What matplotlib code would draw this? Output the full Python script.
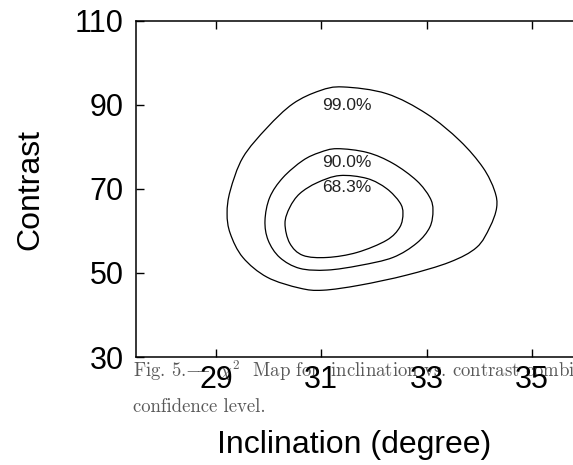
import numpy as np
import matplotlib as mpl
mpl.use('Agg')
from matplotlib import pyplot as plt
from matplotlib.path import Path
from matplotlib.patches import PathPatch

c99_x = [31.41, 32.24, 33.00, 33.63, 34.07, 34.29, 34.33, 34.20, 33.95, 33.44, 32.62, 31.73,
         31.03, 30.59, 29.97, 29.51, 29.27, 29.21, 29.27, 29.51, 29.97, 30.46, 30.97]
c99_y = [94.3, 92.7, 87.9, 81.5, 75.1, 69.6, 65.6, 60.9, 56.1, 52.6, 49.5, 47.1,
         45.9, 46.4, 49.0, 53.7, 59.4, 64.2, 69.6, 77.5, 84.6, 90.3, 93.4]

c90_x = [31.30, 31.87, 32.36, 32.81, 33.06, 33.12, 33.06, 32.81, 32.36, 31.73, 31.11, 30.59,
         30.21, 29.99, 29.93, 30.02, 30.27, 30.65, 30.97]
c90_y = [79.6, 78.7, 76.1, 72.0, 68.0, 64.9, 60.9, 57.1, 53.7, 51.8, 50.7, 51.1,
         53.7, 57.8, 62.5, 68.0, 72.7, 76.8, 78.7]

c68_x = [31.35, 31.87, 32.24, 32.49, 32.55, 32.49, 32.24, 31.68, 31.11, 30.65, 30.40, 30.31,
         30.40, 30.59, 30.92]
c68_y = [73.2, 72.5, 70.1, 66.8, 64.2, 60.9, 57.8, 54.9, 53.7, 54.2, 57.1, 61.8,
         65.6, 68.9, 71.5]

levels = ['99.0%', '90.0%', '68.3%']
label_x = [31.49, 31.49, 31.49]
label_y = [89.8, 76.3, 70.4]

xticks = [29, 31, 33, 35]
yticks = [30, 50, 70, 90, 110]

caption1 = 'Fig. 5.$-\\!\\!\\!-$ $\\chi^2$  Map for  inclination vs. contrast combined at the 68.3%'
caption2 = 'confidence level.'


def smooth_loop(xs, ys):
    # closed curve through the read points, drawn as bezier segments
    p = np.column_stack([xs, ys])
    n = len(p)
    verts = [p[0]]
    codes = [Path.MOVETO]
    for i in range(n):
        p0, p1, p2, p3 = p[i-1], p[i], p[(i+1) % n], p[(i+2) % n]
        verts += [p1 + (p2-p0)/6., p2 - (p3-p1)/6., p2]
        codes += [Path.CURVE4]*3
    return Path(verts, codes)


plt.rcParams['font.family'] = ['Liberation Sans', 'DejaVu Sans']
plt.rcParams['mathtext.fontset'] = 'cm'

fig = plt.figure(figsize=(5.73, 4.65), dpi=100)
ax = fig.add_axes([136/573, 108/465, 1 - 136/573, 336/465])
ax.patch.set_alpha(0)

for cx, cy in [(c99_x, c99_y), (c90_x, c90_y), (c68_x, c68_y)]:
    ax.add_patch(PathPatch(smooth_loop(cx, cy), fill=False, edgecolor='black', lw=0.9))

for t, lx, ly in zip(levels, label_x, label_y):
    ax.text(lx, ly, t, ha='center', va='center', fontsize=12.5, color='#222222')

ax.set_xlim(27.48, 35.78)
ax.set_ylim(30, 110)
ax.set_xticks(xticks)
ax.set_yticks(yticks)
ax.tick_params(direction='in', length=6, width=1, labelsize=22, top=True, pad=6)
ax.tick_params(axis='y', pad=9)
ax.spines['right'].set_visible(False)
for s in ['left', 'top', 'bottom']:
    ax.spines[s].set_linewidth(1.1)

ax.set_xlabel('Inclination (degree)', fontsize=23, labelpad=25)
ax.set_ylabel('Contrast', fontsize=23, labelpad=21)

fig.text(133/573, 1 - 377/465, caption1, fontsize=13.5, color='0.35', va='baseline',
         family=['cmr10', 'DejaVu Serif'], zorder=-1)
fig.text(133/573, 1 - 412/465, caption2, fontsize=13.5, color='0.35', va='baseline',
         family=['cmr10', 'DejaVu Serif'], zorder=-1)

plt.savefig('out.png', dpi=100)
print('ok')
